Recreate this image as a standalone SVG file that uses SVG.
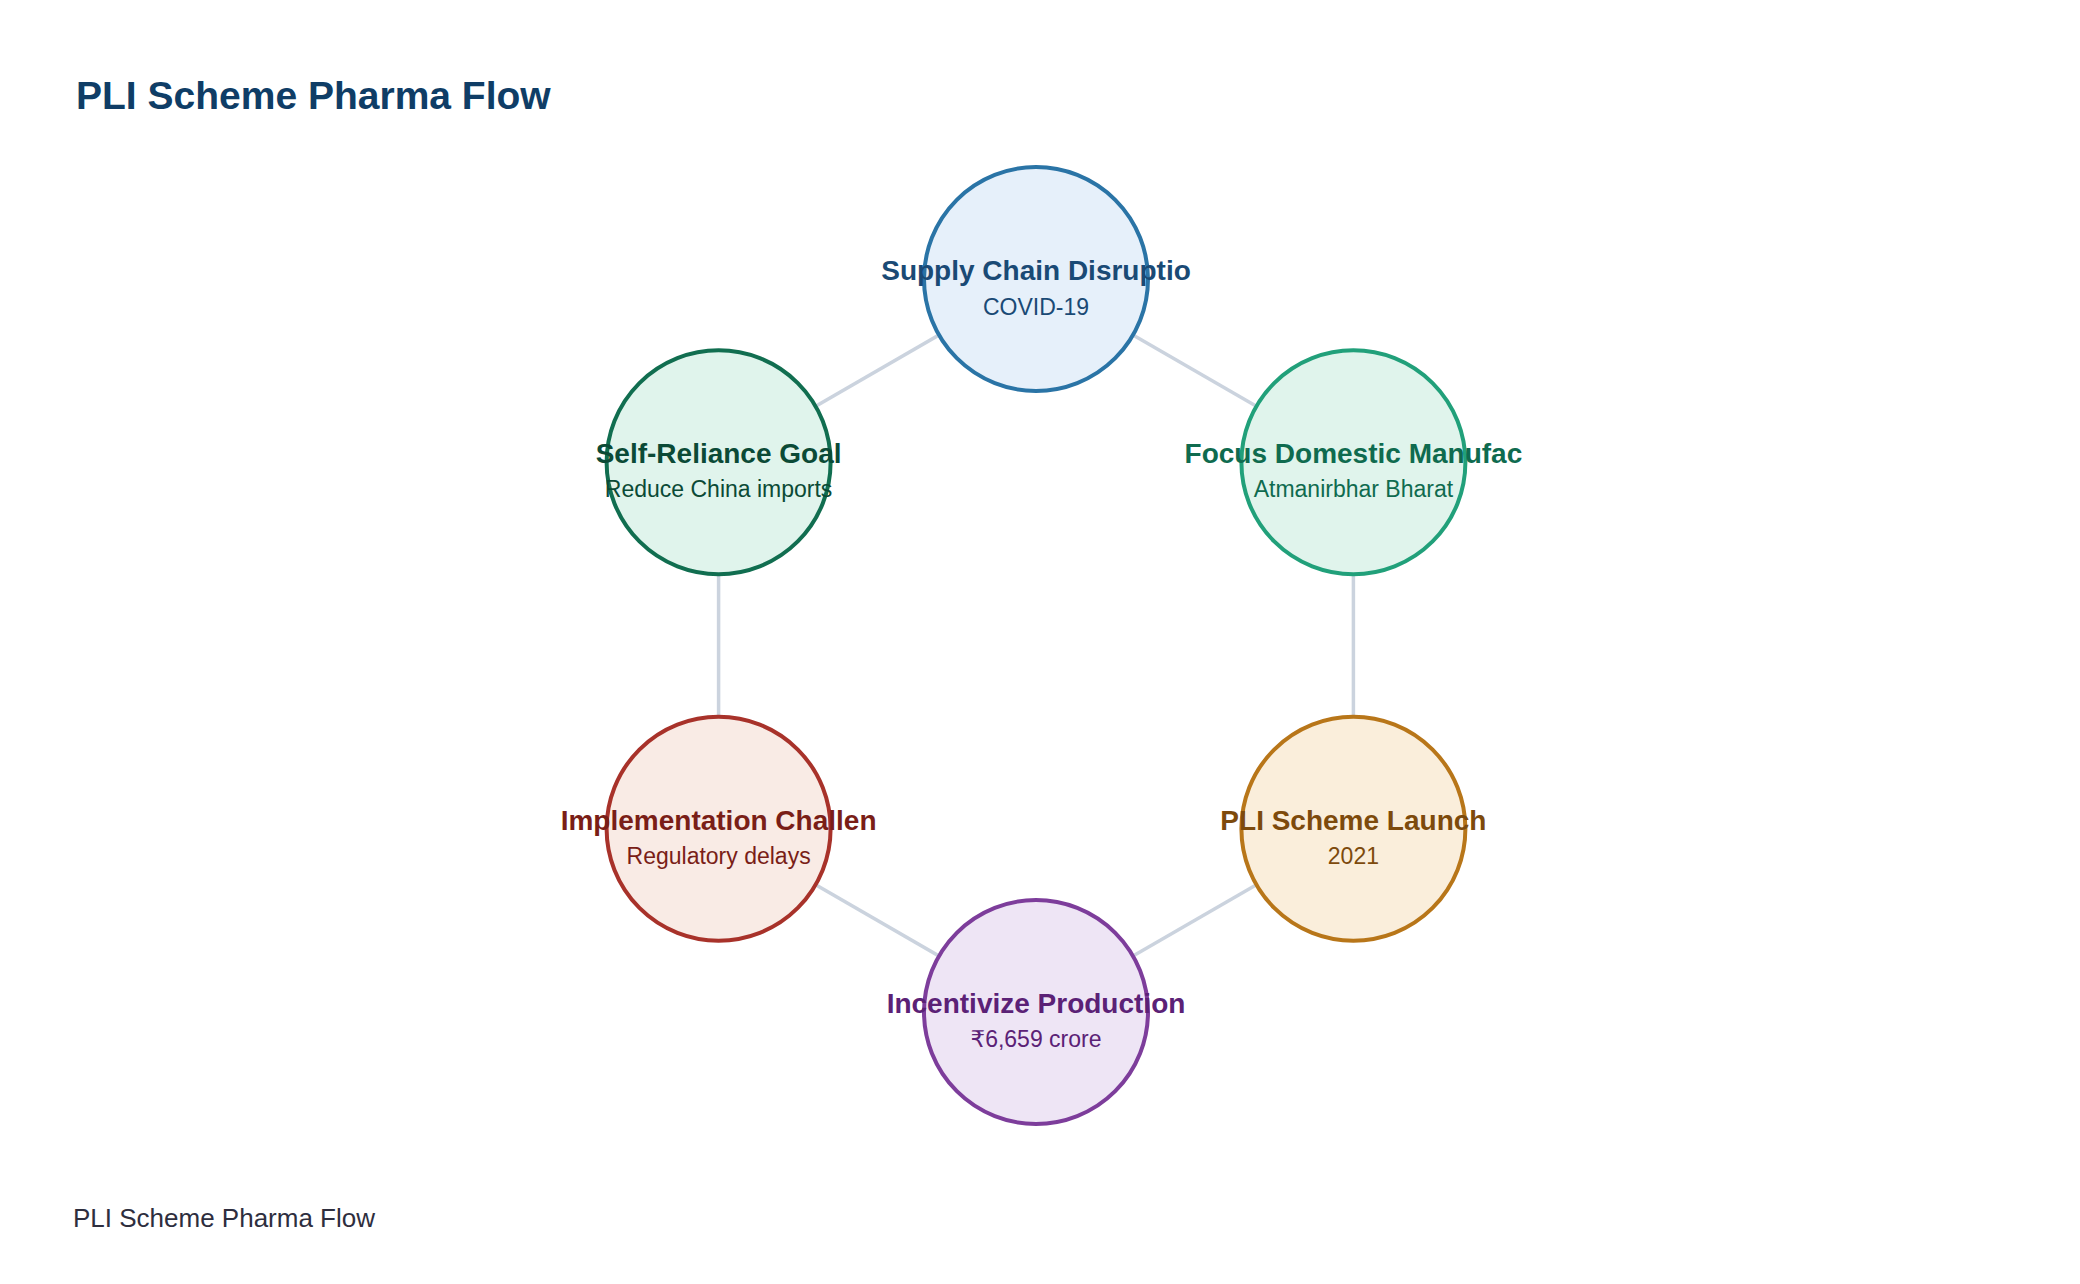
<svg xmlns="http://www.w3.org/2000/svg" width="2080" height="1284" viewBox="0 0 2080 1284">
<style>
text{font-family:"Liberation Sans",Arial,"DejaVu Sans",sans-serif;text-anchor:middle}
.h{font-weight:bold;font-size:28px}
.s{font-size:23px}
.node circle{stroke-width:4}
.edge{stroke:#cbd3de;stroke-width:3.5;fill:none}
</style>
<rect width="2080" height="1284" fill="#ffffff"/>
<text x="76" y="109" style="text-anchor:start;font-weight:bold;font-size:39px" fill="#0f3d66">PLI Scheme Pharma Flow</text>
<g id="connectors">
<line class="edge" x1="1036" y1="279" x2="1353.4" y2="462.25"/>
<line class="edge" x1="1353.4" y1="462.25" x2="1353.4" y2="828.75"/>
<line class="edge" x1="1353.4" y1="828.75" x2="1036" y2="1012"/>
<line class="edge" x1="1036" y1="1012" x2="718.6" y2="828.75"/>
<line class="edge" x1="718.6" y1="828.75" x2="718.6" y2="462.25"/>
<line class="edge" x1="718.6" y1="462.25" x2="1036" y2="279"/>
</g>
<g id="node-supply" class="node">
<circle cx="1036" cy="279" r="112" fill="#e6f0fa" stroke="#2a74a6"/>
<text class="h" x="1036" y="280" fill="#1a4a75">Supply Chain Disruptio</text>
<text class="s" x="1036" y="314.5" fill="#1a4a75">COVID-19</text>
</g>
<g id="node-focus" class="node">
<circle cx="1353.4" cy="462.25" r="112" fill="#e0f4ec" stroke="#21a07a"/>
<text class="h" x="1353.4" y="463.25" fill="#0f6b4f">Focus Domestic Manufac</text>
<text class="s" x="1353.4" y="497" fill="#0f6b4f">Atmanirbhar Bharat</text>
</g>
<g id="node-pli" class="node">
<circle cx="1353.4" cy="828.75" r="112" fill="#faeedb" stroke="#b87619"/>
<text class="h" x="1353.4" y="829.75" fill="#7d4a0c">PLI Scheme Launch</text>
<text class="s" x="1353.4" y="863.5" fill="#7d4a0c">2021</text>
</g>
<g id="node-incentivize" class="node">
<circle cx="1036" cy="1012" r="112" fill="#eee5f5" stroke="#7d3d9b"/>
<text class="h" x="1036" y="1013" fill="#5b2176">Incentivize Production</text>
<text class="s" x="1036" y="1047" fill="#5b2176">₹6,659 crore</text>
</g>
<g id="node-implementation" class="node">
<circle cx="718.6" cy="828.75" r="112" fill="#f9ebe5" stroke="#a8322a"/>
<text class="h" x="718.6" y="829.75" fill="#7a1e17">Implementation Challen</text>
<text class="s" x="718.6" y="863.5" fill="#7a1e17">Regulatory delays</text>
</g>
<g id="node-selfreliance" class="node">
<circle cx="718.6" cy="462.25" r="112" fill="#e0f4ec" stroke="#116e50"/>
<text class="h" x="718.6" y="463.25" fill="#0b4a36">Self-Reliance Goal</text>
<text class="s" x="718.6" y="497" fill="#0b4a36">Reduce China imports</text>
</g>
<text x="73" y="1227" style="text-anchor:start;font-size:26px" fill="#2e2e3e">PLI Scheme Pharma Flow</text>
</svg>
